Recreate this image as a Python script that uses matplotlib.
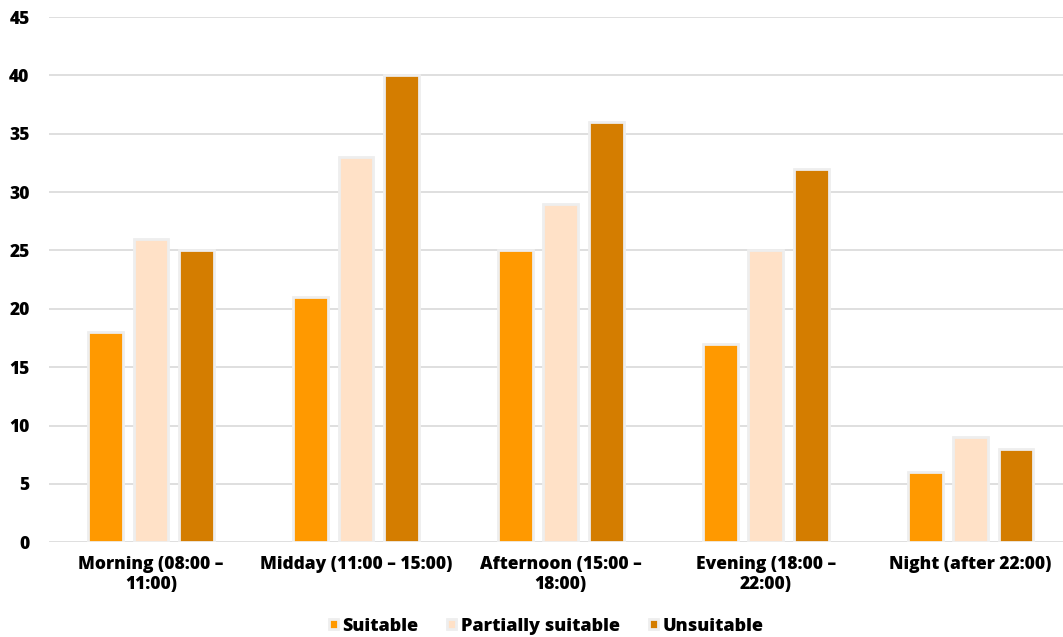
import matplotlib.pyplot as plt
import numpy as np

# Data
periods = ['Morning (08:00 –\n11:00)', 'Midday (11:00 – 15:00)', 'Afternoon (15:00 –\n18:00)',
           'Evening (18:00 –\n22:00)', 'Night (after 22:00)']
suitable = [18, 21, 25, 17, 6]
partially = [26, 33, 29, 25, 9]
unsuitable = [25, 40, 36, 32, 8]
series_names = ['Suitable', 'Partially suitable', 'Unsuitable']
colors = ['#FF9900', '#FFE1C7', '#D47D00']

plt.rcParams['font.family'] = ['Open Sans', 'DejaVu Sans']
W = 800

fig = plt.figure(figsize=(10.63, 6.37), dpi=100)
ax = fig.add_axes([0.0461, 0.1487, 0.9539, 0.8246])

x = np.arange(len(periods))
pitch = 0.222
width = 0.17
for i, (vals, name, col) in enumerate(zip([suitable, partially, unsuitable], series_names, colors)):
    ax.bar(x + (i - 1) * pitch, vals, width, color=col, edgecolor='#EEEEEE',
           linewidth=2.0, label=name, zorder=3)

ax.set_ylim(0, 45)
ax.set_yticks(range(0, 46, 5))
ax.set_xlim(-0.498, 4.451)
ax.set_xticks(x)
ax.set_xticklabels(periods, fontsize=12.5, fontweight=W, linespacing=1.25)
ax.tick_params(axis='y', labelsize=12.5, length=0, pad=14)
ax.tick_params(axis='x', length=0, pad=10)
for lbl in ax.get_yticklabels():
    lbl.set_fontweight(W)
ax.grid(axis='y', color='#D9D9D9', linewidth=1.2, zorder=0)
for s in ax.spines.values():
    s.set_visible(False)

leg = ax.legend(loc='lower center', bbox_to_anchor=(0.49, -0.207), ncol=3, frameon=False,
                fontsize=13, handlelength=0.5, handleheight=0.5, handletextpad=0.25,
                columnspacing=1.6)
for t in leg.get_texts():
    t.set_fontweight(W)

fig.savefig('out.png', dpi=100)
